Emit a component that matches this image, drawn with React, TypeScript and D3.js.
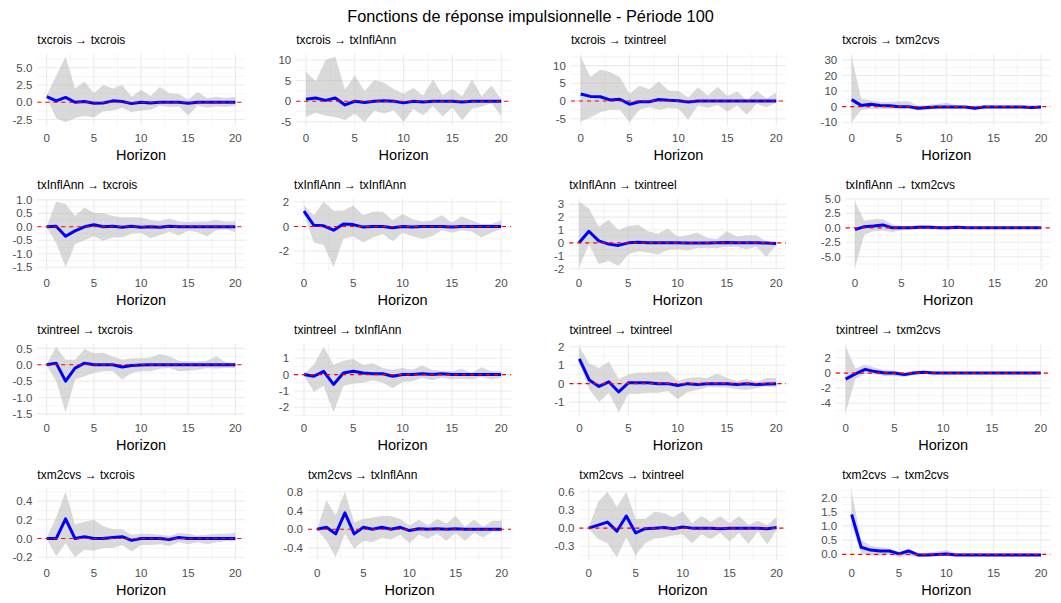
import React, { useEffect, useRef } from "react";
import * as d3 from "d3";

// impulse -> response variables
const variables = ["txcrois", "txInflAnn", "txintreel", "txm2cvs"];
const horizons = d3.range(0, 21);

// txcrois -> ...
const irf_txcrois_txcrois = [0.8, 0.2, 0.7, 0.0, 0.1, -0.15, -0.1, 0.2, 0.1, -0.2, 0.0, -0.1, 0.0, 0.0, 0.0, -0.15, 0.0, 0.0, 0.0, 0.0, 0.0];
const lo_txcrois_txcrois = [0.6, -2.3, -2.9, -2.3, -2.0, -2.2, -1.3, -1.2, -0.8, -1.4, -1.2, -1.1, -0.5, -0.7, -0.6, -1.9, -0.5, -0.8, -0.6, -0.7, -0.5];
const hi_txcrois_txcrois = [1.0, 3.8, 6.6, 2.0, 3.0, 1.3, 2.5, 2.0, 2.5, 0.8, 1.8, 0.9, 2.2, 1.3, 1.2, 0.4, 1.5, 0.6, 0.8, 0.6, 0.8];

const irf_txcrois_txInflAnn = [0.5, 0.8, 0.2, 0.8, -0.9, 0.0, -0.3, 0.0, 0.1, 0.0, -0.4, 0.0, -0.2, 0.0, 0.0, 0.0, -0.2, 0.0, 0.0, 0.0, 0.0];
const lo_txcrois_txInflAnn = [-3.8, -2.8, -3.5, -3.8, -4.6, -3.0, -5.1, -2.3, -3.0, -2.2, -5.0, -1.9, -3.4, -1.2, -3.7, -1.5, -4.6, -1.8, -1.3, -0.5, -3.5];
const hi_txcrois_txInflAnn = [7.2, 4.8, 10.0, 10.8, 2.8, 6.3, 2.4, 5.1, 4.5, 2.9, 1.8, 3.2, 1.4, 5.3, 1.5, 3.0, 1.2, 5.3, 1.2, 3.8, 0.5];

const irf_txcrois_txintreel = [2.0, 1.3, 1.2, 0.3, 0.5, -0.9, -0.2, -0.2, 0.4, 0.2, 0.1, -0.3, 0.0, 0.0, 0.0, 0.0, 0.0, 0.0, 0.0, 0.0, 0.0];
const lo_txcrois_txintreel = [-5.8, -4.6, -3.2, -2.5, -2.5, -6.0, -2.5, -1.8, -2.5, -2.0, -2.2, -5.3, -1.3, -2.0, -1.1, -3.0, -1.3, -3.9, -0.8, -1.8, -0.5];
const hi_txcrois_txintreel = [12.5, 6.8, 8.8, 8.2, 6.8, 2.0, 4.3, 3.3, 5.5, 3.0, 2.8, 1.0, 3.9, 1.5, 4.0, 1.5, 2.7, 0.3, 2.8, 0.8, 2.3];

const irf_txcrois_txm2cvs = [4.5, 0.8, 1.5, 0.8, 0.5, 0.0, 0.0, -1.0, -0.5, -0.3, -0.3, -0.3, -0.3, -1.0, -0.3, -0.3, -0.3, -0.3, -0.3, -0.5, -0.3];
const lo_txcrois_txm2cvs = [-10, -2, -1.5, -1.5, -1.5, -1, -1, -2.5, -2, -1.5, -1, -1.5, -1, -2, -1, -1, -1, -1, -1, -1, -1];
const hi_txcrois_txm2cvs = [32, 5, 4, 3, 3, 3.5, 3.5, 0.5, 1, 1.5, 2.5, 1.0, 0.5, 0.5, 1.0, 0.5, 0.8, 0.5, 0.5, 0.5, 0.5];

// txInflAnn -> ...
const irf_txInflAnn_txcrois = [0.0, 0.02, -0.35, -0.15, 0.0, 0.08, 0.0, 0.02, -0.02, 0.02, -0.02, 0.0, -0.02, 0.02, 0.0, 0.0, 0.0, 0.0, 0.0, 0.0, 0.0];
const lo_txInflAnn_txcrois = [-0.02, -0.6, -1.5, -0.65, -0.5, -0.35, -0.52, -0.4, -0.4, -0.25, -0.22, -0.42, -0.3, -0.18, -0.32, -0.15, -0.2, -0.35, -0.12, -0.1, -0.2];
const hi_txInflAnn_txcrois = [0.02, 0.93, 0.85, 0.4, 0.72, 0.52, 0.5, 0.4, 0.36, 0.36, 0.35, 0.25, 0.22, 0.3, 0.2, 0.18, 0.2, 0.2, 0.25, 0.2, 0.2];

const irf_txInflAnn_txInflAnn = [1.25, 0.1, 0.05, -0.3, 0.2, 0.15, -0.05, 0.0, 0.0, -0.1, 0.0, -0.05, 0.0, 0.0, 0.0, -0.05, 0.0, 0.0, 0.0, 0.0, 0.0];
const lo_txInflAnn_txInflAnn = [1.0, -1.3, -1.5, -3.3, -1.0, -0.8, -1.3, -0.9, -0.6, -1.2, -0.5, -0.8, -1.0, -0.8, -0.3, -0.5, -0.3, -0.4, -0.9, -0.5, -0.2];
const hi_txInflAnn_txInflAnn = [1.7, 0.9, 2.0, 1.3, 1.3, 1.7, 0.9, 1.2, 1.2, 0.5, 1.0, 0.6, 0.4, 0.5, 0.9, 0.3, 0.8, 0.5, 0.2, 0.2, 0.5];

const irf_txInflAnn_txintreel = [0.0, 0.9, 0.15, -0.1, -0.2, 0.0, 0.05, 0.0, 0.0, 0.0, 0.0, -0.02, -0.02, -0.02, 0.0, 0.02, 0.0, 0.0, 0.0, -0.02, -0.05];
const lo_txInflAnn_txintreel = [-1.9, -0.1, -1.65, -1.4, -1.8, -0.9, -0.65, -0.75, -0.9, -0.55, -0.5, -0.6, -0.4, -0.4, -0.4, -0.3, -0.3, -0.5, -0.3, -1.1, -0.2];
const hi_txInflAnn_txintreel = [3.2, 2.7, 1.25, 1.8, 1.0, 1.3, 1.4, 0.9, 0.7, 1.1, 0.5, 0.6, 0.8, 0.4, 0.3, 0.9, 0.5, 0.6, 0.6, 0.1, 0.0];

const irf_txInflAnn_txm2cvs = [-0.3, 0.2, 0.3, 0.5, 0.0, 0.0, 0.0, 0.1, 0.1, 0.0, 0.0, 0.1, 0.0, 0.0, 0.0, 0.0, 0.0, 0.0, 0.0, 0.0, 0.0];
const lo_txInflAnn_txm2cvs = [-6.8, -1.2, -0.6, -0.5, -0.7, -0.4, -0.3, -0.2, -0.3, -0.2, -0.4, -0.2, -0.1, -0.1, -0.1, -0.1, -0.1, -0.1, -0.1, -0.1, -0.1];
const hi_txInflAnn_txm2cvs = [4.5, 1.2, 1.5, 1.5, 0.6, 0.3, 0.3, 0.5, 0.4, 0.3, 0.3, 0.4, 0.2, 0.2, 0.2, 0.2, 0.2, 0.2, 0.2, 0.2, 0.2];

// txintreel -> ...
const irf_txintreel_txcrois = [0.0, 0.05, -0.5, -0.1, 0.05, 0.0, 0.0, 0.0, -0.07, -0.02, -0.01, 0.0, 0.0, 0.0, 0.0, 0.0, 0.0, 0.0, 0.0, 0.0, 0.0];
const lo_txintreel_txcrois = [-0.02, -0.5, -1.45, -0.45, -0.35, -0.25, -0.2, -0.2, -0.45, -0.25, -0.2, -0.2, -0.12, -0.1, -0.2, -0.18, -0.15, -0.1, -0.12, -0.1, -0.1];
const hi_txintreel_txcrois = [0.02, 0.55, 0.15, 0.15, 0.48, 0.35, 0.37, 0.25, 0.15, 0.2, 0.2, 0.22, 0.33, 0.25, 0.12, 0.1, 0.1, 0.12, 0.26, 0.08, 0.05];

const irf_txintreel_txInflAnn = [0.0, -0.1, 0.2, -0.6, 0.1, 0.2, 0.1, 0.05, 0.05, -0.1, 0.0, 0.0, 0.05, 0.0, 0.05, 0.0, 0.0, 0.0, 0.0, 0.0, 0.0];
const lo_txintreel_txInflAnn = [-0.05, -1.05, -0.7, -2.3, -0.7, -0.55, -0.5, -0.35, -0.5, -0.85, -0.45, -0.4, -0.2, -0.35, -0.2, -0.3, -0.25, -0.3, -0.15, -0.3, -0.2];
const hi_txintreel_txInflAnn = [0.05, 0.6, 1.7, 0.6, 0.85, 0.95, 0.6, 0.7, 0.4, 0.3, 0.4, 0.3, 0.55, 0.3, 0.2, 0.2, 0.35, 0.1, 0.45, 0.2, 0.2];

const irf_txintreel_txintreel = [1.35, 0.2, -0.15, 0.1, -0.45, 0.05, 0.05, 0.05, 0.0, 0.0, -0.1, 0.0, -0.05, 0.0, 0.0, 0.0, -0.05, 0.0, -0.05, -0.02, 0.0];
const lo_txintreel_txintreel = [1.1, -0.3, -1.0, -0.5, -1.55, -0.55, -0.55, -0.5, -0.5, -0.4, -0.85, -0.45, -0.35, -0.2, -0.2, -0.2, -0.3, -0.35, -0.25, -0.15, -0.2];
const hi_txintreel_txintreel = [2.0, 1.1, 0.85, 1.2, 0.25, 0.5, 0.6, 0.6, 0.65, 0.65, 0.15, 0.3, 0.35, 0.3, 0.55, 0.3, 0.15, 0.25, 0.1, 0.3, 0.3];

const irf_txintreel_txm2cvs = [-0.8, -0.1, 0.5, 0.2, 0.0, 0.0, -0.2, 0.0, 0.1, 0.0, 0.0, 0.0, 0.0, 0.0, 0.0, 0.0, 0.0, 0.0, 0.0, 0.0, 0.0];
const lo_txintreel_txm2cvs = [-5.2, -0.8, -0.1, -0.2, -0.4, -0.4, -0.5, -0.3, -0.1, -0.1, -0.1, -0.1, -0.1, -0.1, -0.1, -0.1, -0.1, -0.1, -0.1, -0.1, -0.1];
const hi_txintreel_txm2cvs = [3.5, 0.6, 1.1, 0.7, 0.4, 0.3, 0.1, 0.3, 0.3, 0.2, 0.1, 0.1, 0.1, 0.1, 0.1, 0.1, 0.1, 0.1, 0.1, 0.1, 0.1];

// txm2cvs -> ...
const irf_txm2cvs_txcrois = [0.0, 0.0, 0.21, 0.0, 0.02, 0.0, 0.0, 0.01, 0.02, -0.02, 0.0, 0.0, 0.0, -0.01, 0.01, 0.0, 0.0, 0.0, 0.0, 0.0, 0.0];
const lo_txm2cvs_txcrois = [-0.005, -0.19, -0.05, -0.2, -0.12, -0.13, -0.1, -0.1, -0.07, -0.14, -0.07, -0.07, -0.06, -0.08, -0.04, -0.06, -0.04, -0.06, -0.04, -0.03, -0.03];
const hi_txm2cvs_txcrois = [0.005, 0.23, 0.5, 0.15, 0.18, 0.2, 0.13, 0.1, 0.1, 0.04, 0.05, 0.05, 0.04, 0.03, 0.06, 0.05, 0.03, 0.04, 0.05, 0.05, 0.06];

const irf_txm2cvs_txInflAnn = [0.0, 0.04, -0.1, 0.35, -0.1, 0.04, 0.0, 0.04, 0.0, 0.04, -0.03, 0.01, 0.0, 0.01, 0.0, 0.01, 0.0, 0.0, 0.0, 0.0, 0.0];
const lo_txm2cvs_txInflAnn = [-0.01, -0.25, -0.6, -0.1, -0.42, -0.25, -0.28, -0.18, -0.22, -0.12, -0.3, -0.12, -0.2, -0.1, -0.25, -0.08, -0.25, -0.08, -0.18, -0.05, -0.05];
const hi_txm2cvs_txInflAnn = [0.01, 0.62, 0.3, 0.8, 0.15, 0.22, 0.25, 0.28, 0.28, 0.22, 0.08, 0.2, 0.08, 0.22, 0.12, 0.28, 0.05, 0.2, 0.05, 0.18, 0.18];

const irf_txm2cvs_txintreel = [0.0, 0.05, 0.1, -0.05, 0.2, -0.08, -0.01, 0.0, 0.01, -0.01, 0.02, 0.0, 0.0, 0.0, -0.01, 0.0, 0.0, 0.0, 0.0, -0.01, 0.01];
const lo_txm2cvs_txintreel = [-0.01, -0.18, -0.25, -0.48, -0.15, -0.45, -0.25, -0.17, -0.15, -0.12, -0.1, -0.25, -0.1, -0.18, -0.08, -0.22, -0.08, -0.26, -0.05, -0.27, -0.03];
const hi_txm2cvs_txintreel = [0.01, 0.43, 0.6, 0.35, 0.6, 0.15, 0.15, 0.27, 0.25, 0.18, 0.28, 0.08, 0.2, 0.1, 0.2, 0.08, 0.2, 0.05, 0.12, 0.05, 0.18];

const irf_txm2cvs_txm2cvs = [1.4, 0.25, 0.15, 0.12, 0.12, 0.02, 0.12, -0.02, -0.02, 0.0, 0.01, -0.02, -0.02, -0.02, -0.02, -0.02, -0.02, -0.02, -0.02, -0.02, -0.02];
const lo_txm2cvs_txm2cvs = [1.0, 0.05, -0.05, -0.05, 0.0, -0.1, -0.05, -0.1, -0.08, -0.05, -0.05, -0.05, -0.05, -0.05, -0.05, -0.05, -0.05, -0.05, -0.05, -0.05, -0.05];
const hi_txm2cvs_txm2cvs = [2.2, 0.5, 0.3, 0.25, 0.2, 0.1, 0.2, 0.05, 0.06, 0.1, 0.15, 0.05, 0.05, 0.04, 0.04, 0.03, 0.03, 0.03, 0.03, 0.03, 0.02];

// y tick labels, row by row
const yTicksRow1 = [["-2.5", "0.0", "2.5", "5.0"], ["-5", "0", "5", "10"], ["-5", "0", "5", "10"], ["-10", "0", "10", "20", "30"]];
const yTicksRow2 = [["-1.5", "-1.0", "-0.5", "0.0", "0.5", "1.0"], ["-2", "0", "2"], ["-2", "-1", "0", "1", "2", "3"], ["-5.0", "-2.5", "0.0", "2.5", "5.0"]];
const yTicksRow3 = [["-1.5", "-1.0", "-0.5", "0.0", "0.5"], ["-2", "-1", "0", "1"], ["-1", "0", "1", "2"], ["-4", "-2", "0", "2"]];
const yTicksRow4 = [["-0.2", "0.0", "0.2", "0.4"], ["-0.4", "0.0", "0.4", "0.8"], ["-0.3", "0.0", "0.3", "0.6"], ["0.0", "0.5", "1.0", "1.5", "2.0"]];
const xTicks = [0, 5, 10, 15, 20];

const series = [
  [irf_txcrois_txcrois, lo_txcrois_txcrois, hi_txcrois_txcrois],
  [irf_txcrois_txInflAnn, lo_txcrois_txInflAnn, hi_txcrois_txInflAnn],
  [irf_txcrois_txintreel, lo_txcrois_txintreel, hi_txcrois_txintreel],
  [irf_txcrois_txm2cvs, lo_txcrois_txm2cvs, hi_txcrois_txm2cvs],
  [irf_txInflAnn_txcrois, lo_txInflAnn_txcrois, hi_txInflAnn_txcrois],
  [irf_txInflAnn_txInflAnn, lo_txInflAnn_txInflAnn, hi_txInflAnn_txInflAnn],
  [irf_txInflAnn_txintreel, lo_txInflAnn_txintreel, hi_txInflAnn_txintreel],
  [irf_txInflAnn_txm2cvs, lo_txInflAnn_txm2cvs, hi_txInflAnn_txm2cvs],
  [irf_txintreel_txcrois, lo_txintreel_txcrois, hi_txintreel_txcrois],
  [irf_txintreel_txInflAnn, lo_txintreel_txInflAnn, hi_txintreel_txInflAnn],
  [irf_txintreel_txintreel, lo_txintreel_txintreel, hi_txintreel_txintreel],
  [irf_txintreel_txm2cvs, lo_txintreel_txm2cvs, hi_txintreel_txm2cvs],
  [irf_txm2cvs_txcrois, lo_txm2cvs_txcrois, hi_txm2cvs_txcrois],
  [irf_txm2cvs_txInflAnn, lo_txm2cvs_txInflAnn, hi_txm2cvs_txInflAnn],
  [irf_txm2cvs_txintreel, lo_txm2cvs_txintreel, hi_txm2cvs_txintreel],
  [irf_txm2cvs_txm2cvs, lo_txm2cvs_txm2cvs, hi_txm2cvs_txm2cvs],
];
const yTicks = [...yTicksRow1, ...yTicksRow2, ...yTicksRow3, ...yTicksRow4];

// layout of the grid (panel edges in px)
const panelLeft = [
  [37.3, 296.2, 570.9, 842.2],
  [37.3, 294.1, 569.2, 845.7],
  [37.3, 294.1, 569.5, 835.9],
  [37.3, 308, 579.3, 842.2],
];
const panelRight = [244.8, 511, 786, 1050.5];
const rowStep = 145;

const FONT = "'Liberation Sans', Arial, sans-serif";

export default function App() {
  const ref = useRef<SVGSVGElement>(null);

  useEffect(() => {
    document.body.style.margin = "0";
    const svg = d3.select(ref.current);
    svg.selectAll("*").remove();
    svg.attr("font-family", FONT);

    svg.append("text")
      .attr("x", 530.5)
      .attr("y", 21.5)
      .attr("text-anchor", "middle")
      .attr("font-size", 16.3)
      .attr("fill", "#000")
      .text("Fonctions de réponse impulsionnelle - Période 100");

    series.forEach((s, i) => {
      const row = Math.floor(i / 4), col = i % 4;
      const [irf, lo, hi] = s;
      const rowTop = row * rowStep;
      const top = rowTop + 53.5, bottom = rowTop + 125.5;
      const left = panelLeft[row][col], right = panelRight[col];

      const x = d3.scaleLinear().domain([-1, 21]).range([left, right]);
      const ext = d3.extent([...irf, ...lo, ...hi, 0]) as [number, number];
      const pad = (ext[1] - ext[0]) * 0.05;
      const y = d3.scaleLinear().domain([ext[0] - pad, ext[1] + pad]).range([bottom, top]);

      const ticks = yTicks[i].map(Number);
      const step = ticks[1] - ticks[0];
      const minorY = [ticks[0] - step / 2, ...ticks.map(t => t + step / 2)]
        .filter(v => v >= y.domain()[0] && v <= y.domain()[1]);
      const minorX = [-2.5, 2.5, 7.5, 12.5, 17.5, 22.5].filter(v => v >= -1 && v <= 21);

      const g = svg.append("g");

      // grid
      g.selectAll(".minorY").data(minorY).enter().append("line")
        .attr("x1", left).attr("x2", right)
        .attr("y1", d => y(d)).attr("y2", d => y(d))
        .attr("stroke", "#ebebeb").attr("stroke-width", 0.55);
      g.selectAll(".minorX").data(minorX).enter().append("line")
        .attr("x1", d => x(d)).attr("x2", d => x(d))
        .attr("y1", top).attr("y2", bottom)
        .attr("stroke", "#ebebeb").attr("stroke-width", 0.55);
      g.selectAll(".majorY").data(ticks).enter().append("line")
        .attr("x1", left).attr("x2", right)
        .attr("y1", d => y(d)).attr("y2", d => y(d))
        .attr("stroke", "#ebebeb").attr("stroke-width", 1.1);
      g.selectAll(".majorX").data(xTicks).enter().append("line")
        .attr("x1", d => x(d)).attr("x2", d => x(d))
        .attr("y1", top).attr("y2", bottom)
        .attr("stroke", "#ebebeb").attr("stroke-width", 1.1);

      // confidence band
      const area = d3.area<number>()
        .x(d => x(d))
        .y0(d => y(lo[d]))
        .y1(d => y(hi[d]));
      g.append("path")
        .attr("d", area(horizons))
        .attr("fill", "#b3b3b3")
        .attr("fill-opacity", 0.5);

      // response
      const line = d3.line<number>()
        .x(d => x(d))
        .y(d => y(irf[d]));
      g.append("path")
        .attr("d", line(horizons))
        .attr("fill", "none")
        .attr("stroke", "#0000ff")
        .attr("stroke-width", 3)
        .attr("stroke-linejoin", "round");

      // zero line
      g.append("line")
        .attr("x1", left).attr("x2", right)
        .attr("y1", y(0)).attr("y2", y(0))
        .attr("stroke", "#ff0000")
        .attr("stroke-width", 1.1)
        .attr("stroke-dasharray", "4,4");

      // y tick labels
      g.selectAll(".ylab").data(yTicks[i]).enter().append("text")
        .attr("x", left - 5)
        .attr("y", d => y(+d) + 4.1)
        .attr("text-anchor", "end")
        .attr("font-size", 11.5)
        .attr("fill", "#4d4d4d")
        .text(d => d);

      // x tick labels
      g.selectAll(".xlab").data(xTicks).enter().append("text")
        .attr("x", d => x(d))
        .attr("y", rowTop + 142.4)
        .attr("text-anchor", "middle")
        .attr("font-size", 11.5)
        .attr("fill", "#4d4d4d")
        .text(d => d);

      g.append("text")
        .attr("x", (left + right) / 2)
        .attr("y", rowTop + 160.2)
        .attr("text-anchor", "middle")
        .attr("font-size", 14.5)
        .attr("fill", "#000")
        .text("Horizon");

      g.append("text")
        .attr("x", left)
        .attr("y", rowTop + 43.6)
        .attr("font-size", 12)
        .attr("fill", "#000")
        .text(`${variables[row]} → ${variables[col]}`);
    });
  }, []);

  return <svg ref={ref} width={1061} height={603} style={{ display: "block", background: "#fff" }} />;
}
